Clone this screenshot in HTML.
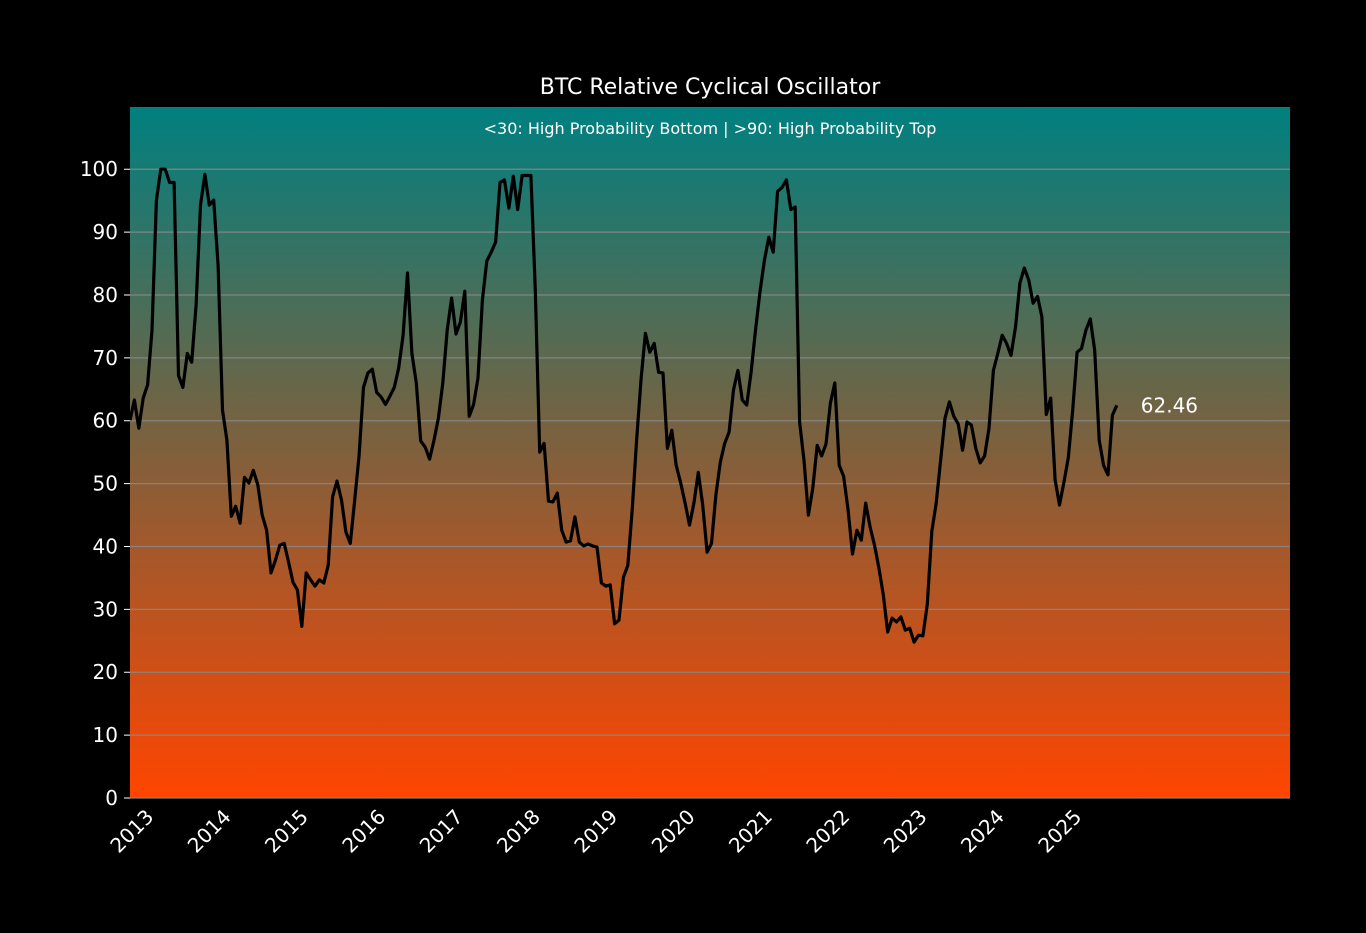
<!DOCTYPE html>
<html><head><meta charset="utf-8"><style>
html,body{margin:0;padding:0;background:#000;}
svg{display:block;font-family:"DejaVu Sans","Liberation Sans",sans-serif;}
</style></head><body>
<svg id="chart" width="1366" height="933" viewBox="0 0 1366 933">
<defs><linearGradient id="bg" x1="0" y1="0" x2="0" y2="1">
<stop offset="0" stop-color="#008080"/><stop offset="0.5" stop-color="#80603c"/><stop offset="1" stop-color="#ff4500"/></linearGradient></defs>
<rect x="130" y="107" width="1160" height="691" fill="url(#bg)"/>
<g id="grid"></g><g id="yaxis"></g><g id="xaxis"></g>
<path id="line" fill="none" stroke="#000" stroke-width="3.2" stroke-linejoin="round"/>
<text x="710" y="94" text-anchor="middle" fill="#fff" font-size="22">BTC Relative Cyclical Oscillator</text>
<text x="710" y="134" text-anchor="middle" fill="#fff" font-size="16">&lt;30: High Probability Bottom | &gt;90: High Probability Top</text>
<text id="lastlbl" fill="#fff" font-size="20"></text>
</svg>
<script>
const values=[60.1,63.3,58.8,63.6,65.7,74.4,95.1,100,100,97.9,97.9,67.2,65.3,70.7,69.3,78.4,94.3,99.2,94.3,95.1,84.7,61.7,56.9,44.8,46.4,43.7,51.0,50.1,52.1,49.8,45.0,42.6,35.8,37.8,40.2,40.5,37.5,34.3,33.1,27.3,35.8,34.7,33.7,34.7,34.2,37.0,47.9,50.4,47.4,42.3,40.5,47.4,54.5,65.3,67.6,68.2,64.5,63.8,62.6,63.9,65.3,68.4,73.6,83.5,70.7,66.0,56.8,55.8,53.9,56.9,60.4,66.0,74.4,79.5,73.8,75.7,80.6,60.7,62.6,66.8,79.2,85.4,86.8,88.4,97.9,98.3,93.8,98.9,93.6,99.0,99.0,99.0,80.8,55.0,56.4,47.2,47.1,48.5,42.6,40.7,40.9,44.7,40.7,40.1,40.4,40.1,39.9,34.2,33.7,33.9,27.7,28.3,35.1,37.0,45.8,56.9,66.5,73.9,70.9,72.3,67.7,67.6,55.6,58.5,52.9,50.1,46.9,43.4,46.9,51.8,46.6,39.1,40.5,48.2,53.4,56.4,58.2,64.9,68.0,63.3,62.5,67.7,74.4,80.4,85.5,89.2,86.8,96.5,97.1,98.3,93.6,94.0,59.8,53.7,45.0,49.3,56.1,54.4,56.3,62.8,66.0,52.9,51.2,45.8,38.8,42.6,41.0,46.9,43.1,40.2,36.6,32.3,26.4,28.6,28.0,28.8,26.7,27.0,24.8,25.9,25.8,30.8,42.4,46.9,53.7,60.4,63.0,60.7,59.5,55.3,59.8,59.3,55.6,53.3,54.4,58.8,68.0,70.7,73.6,72.3,70.4,74.9,81.9,84.3,82.4,78.7,79.8,76.5,61.0,63.6,50.6,46.6,50.2,54.1,61.7,70.9,71.5,74.4,76.2,71.2,56.9,52.9,51.4,60.9,62.46];
const startYear=2012.68, endYear=2025.44;
const yTicks=[0,10,20,30,40,50,60,70,80,90,100];
const xTicks=[2013,2014,2015,2016,2017,2018,2019,2020,2021,2022,2023,2024,2025];
const X0=130,X1=1290,Y0=798,Y1=107,xmin=2012.68,xmax=2027.68,ymin=0,ymax=109.9;
const sx=v=>X0+(v-xmin)/(xmax-xmin)*(X1-X0);
const sy=v=>Y0-(v-ymin)/(ymax-ymin)*(Y0-Y1);
const NS='http://www.w3.org/2000/svg';
function mk(t,a,p){const e=document.createElementNS(NS,t);for(const k in a)e.setAttribute(k,a[k]);p.appendChild(e);return e;}
const grid=document.getElementById('grid'),ya=document.getElementById('yaxis'),xa=document.getElementById('xaxis');
yTicks.forEach(v=>{
 const g=mk('line',{x1:X0,x2:X1,y1:sy(v),y2:sy(v),stroke:'#888','stroke-width':1.2,opacity:0.9},grid);
 
 
 const t=mk('line',{x1:X0-6,x2:X0,y1:sy(v),y2:sy(v),stroke:'#fff','stroke-width':1},ya);
 
 
 const l=mk('text',{x:X0-12,y:sy(v)+7,'text-anchor':'end',fill:'#fff','font-size':20},ya);
 
 
 l.textContent=v;
});
xTicks.forEach(v=>{
 const x=sx(v);
 const l=mk('text',{x:x,y:818,'text-anchor':'end',fill:'#fff','font-size':20,transform:`rotate(-45 ${x} 818)`},xa);
 
 
 l.textContent=v;
});
const n=values.length,step=(endYear-startYear)/(n-1);
let d='';
values.forEach((v,i)=>{d+=(i?'L':'M')+sx(startYear+i*step).toFixed(1)+','+sy(v).toFixed(1);});
document.getElementById('line').setAttribute('d',d);
const ll=document.getElementById('lastlbl');
ll.setAttribute('x',sx(endYear)+24);ll.setAttribute('y',sy(values[n-1])+7);
ll.textContent=values[n-1].toFixed(2);
</script>
</body></html>
